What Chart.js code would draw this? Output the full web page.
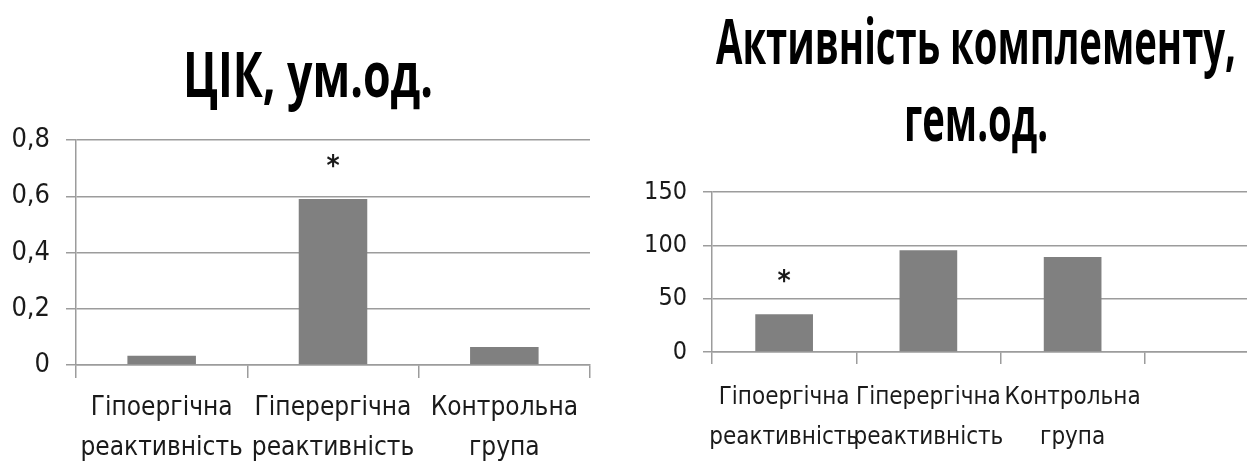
<!DOCTYPE html>
<html lang="uk">
<head>
<meta charset="utf-8">
<title>ЦІК та активність комплементу</title>
<script src="https://cdn.jsdelivr.net/npm/chart.js@4.4.1/dist/chart.umd.min.js"></script>
<style>
  html, body { margin: 0; padding: 0; background: #ffffff; overflow: hidden; }
  #wrap { position: relative; width: 1247px; height: 463px; overflow: hidden; background: #ffffff; }
  #cic { position: absolute; left: 0; top: 0; }
  #compl { position: absolute; left: 620px; top: 0; }
</style>
</head>
<body>
<div id="wrap">
  <canvas id="cic" width="620" height="463"></canvas>
  <canvas id="compl" width="679" height="463"></canvas>
</div>
<script>
// ---- data ----
const cicTitle = ['ЦІК, ум.од.'];
const cicCategories = [
  ['Гіпоергічна', 'реактивність'],
  ['Гіперергічна', 'реактивність'],
  ['Контрольна', 'група']
];
const cicValues = [0.033, 0.59, 0.064];
const cicMarks = ['', '*', ''];
const cicTicks = [0, 0.2, 0.4, 0.6, 0.8];

const complTitle = ['Активність комплементу,', 'гем.од.'];
const complCategories = [
  ['Гіпоергічна', 'реактивність'],
  ['Гіперергічна', 'реактивність'],
  ['Контрольна', 'група'],
  ''
];
const complValues = [35.5, 95.5, 89, null];
const complMarks = ['*', '', '', ''];
const complTicks = [0, 50, 100, 150];

// ---- styling ----
const FAMILY = "'DejaVu Sans Condensed', 'Liberation Sans', sans-serif";
const TITLE_FONT = "bold 62px 'Open Sans', 'Noto Sans', sans-serif";
const BAR = '#808080';
const GRID = '#9c9c9c';
const TEXT = '#1a1a1a';

// heading drawn in a condensed bold face, one baseline per line
const headingPlugin = {
  id: 'heading',
  afterDraw(chart, args, opts) {
    const ctx = chart.ctx;
    ctx.save();
    ctx.font = opts.font;
    ctx.fillStyle = '#000000';
    ctx.textAlign = 'center';
    ctx.textBaseline = 'alphabetic';
    const sx = opts.width / ctx.measureText(opts.lines[0]).width;
    opts.lines.forEach((line, i) => {
      ctx.save();
      ctx.translate(opts.x, opts.baselines[i]);
      ctx.scale(sx, 1);
      ctx.fillText(line, 0, 0);
      ctx.restore();
    });
    ctx.restore();
  }
};

// significance asterisk above the marked bars
const markPlugin = {
  id: 'marks',
  afterDatasetsDraw(chart, args, opts) {
    const meta = chart.getDatasetMeta(0);
    const ctx = chart.ctx;
    ctx.save();
    ctx.fillStyle = TEXT;
    ctx.font = opts.font;
    ctx.textAlign = 'center';
    ctx.textBaseline = 'alphabetic';
    opts.marks.forEach((m, i) => {
      if (!m) return;
      const el = meta.data[i];
      ctx.fillText(m, el.x, el.y - opts.lift);
    });
    ctx.restore();
  }
};

function makeChart(canvasId, cfg) {
  return new Chart(document.getElementById(canvasId), {
    type: 'bar',
    data: {
      labels: cfg.categories,
      datasets: [{
        data: cfg.values,
        backgroundColor: BAR,
        borderWidth: 0,
        categoryPercentage: 0.4,
        barPercentage: 1.0
      }]
    },
    plugins: [markPlugin, headingPlugin],
    options: {
      responsive: false,
      animation: false,
      layout: { padding: cfg.padding },
      plugins: {
        legend: { display: false },
        tooltip: { enabled: false },
        title: { display: false },
        heading: {
          lines: cfg.title,
          font: TITLE_FONT,
          x: cfg.titleX,
          baselines: cfg.titleBaselines,
          width: cfg.titleWidth
        },
        marks: { marks: cfg.marks, font: 'bold 28px ' + FAMILY, lift: 24 }
      },
      scales: {
        x: {
          grid: {
            display: true,
            drawOnChartArea: false,
            drawTicks: true,
            tickLength: cfg.xTickLen,
            color: GRID,
            lineWidth: 1.5
          },
          border: { display: true, color: GRID, width: 1.5 },
          ticks: {
            color: TEXT,
            font: { family: FAMILY, size: cfg.labelSize, lineHeight: cfg.labelLine },
            padding: cfg.xPad,
            maxRotation: 0,
            minRotation: 0,
            autoSkip: false
          },
          afterFit(scale) { scale.height = cfg.xHeight; }
        },
        y: {
          min: 0,
          max: cfg.ticks[cfg.ticks.length - 1],
          afterBuildTicks(scale) { scale.ticks = cfg.ticks.map(v => ({ value: v })); },
          grid: {
            color: GRID,
            lineWidth: 1.5,
            tickLength: cfg.yTickLen
          },
          border: { display: true, color: GRID, width: 1.5 },
          ticks: {
            color: TEXT,
            font: { family: FAMILY, size: cfg.tickSize },
            padding: cfg.yPad,
            callback: cfg.format
          },
          afterFit(scale) { scale.width = cfg.yWidth; }
        }
      }
    }
  });
}

makeChart('cic', {
  categories: cicCategories,
  values: cicValues,
  marks: cicMarks,
  ticks: cicTicks,
  title: cicTitle,
  titleX: 308,
  titleBaselines: [97],
  titleWidth: 250,
  padding: { left: 0, right: 30, top: 140, bottom: 0 },
  labelSize: 26,
  tickSize: 27,
  labelLine: '40px',
  xTickLen: 13,
  xPad: 10,
  xHeight: 98,
  yTickLen: 10,
  yPad: 16,
  yWidth: 76,
  format: v => (v === 0 ? '0' : v.toFixed(1).replace('.', ','))
});

makeChart('compl', {
  categories: complCategories,
  values: complValues,
  marks: complMarks,
  ticks: complTicks,
  title: complTitle,
  titleX: 356,
  titleBaselines: [64, 141],
  titleWidth: 520,
  padding: { left: 0, right: 10, top: 192, bottom: 0 },
  labelSize: 24,
  tickSize: 25,
  labelLine: '40px',
  xTickLen: 12,
  xPad: 14,
  xHeight: 111,
  yTickLen: 9,
  yPad: 16,
  yWidth: 92,
  format: v => String(v)
});
</script>
</body>
</html>
